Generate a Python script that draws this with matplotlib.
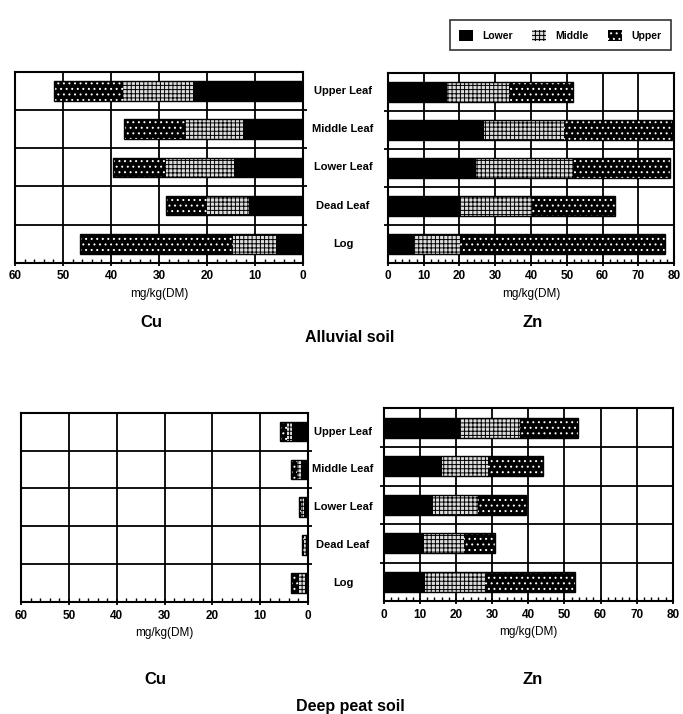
import numpy as np
import matplotlib
matplotlib.use('Agg')
import matplotlib.pyplot as plt
from matplotlib.patches import Patch

plt.rcParams['font.family'] = ['Liberation Sans', 'DejaVu Sans']
plt.rcParams['font.weight'] = 'bold'
plt.rcParams['hatch.linewidth'] = 0.7

categories = ['Upper Leaf', 'Middle Leaf', 'Lower Leaf', 'Dead Leaf', 'Log']
layers = ['Lower', 'Middle', 'Upper']

# segment values, mg/kg(DM), in category order
cu_alluvial = {'Lower': [22.9, 12.5, 14.4, 11.2, 5.6],
               'Middle': [14.6, 12.1, 14.1, 8.8, 9.0],
               'Upper': [14.3, 12.7, 11.2, 8.5, 31.9]}
zn_alluvial = {'Lower': [16.6, 26.8, 24.7, 20.2, 7.4],
               'Middle': [17.2, 22.5, 27.1, 20.0, 12.8],
               'Upper': [17.8, 30.2, 27.0, 23.3, 57.2]}
cu_peat = {'Lower': [3.3, 1.4, 0.9, 0.5, 0.7],
           'Middle': [1.2, 1.0, 0.5, 0.3, 1.2],
           'Upper': [1.3, 1.2, 0.5, 0.4, 1.6]}
zn_peat = {'Lower': [21.2, 16.2, 13.6, 11.1, 11.3],
           'Middle': [16.6, 12.6, 12.5, 11.0, 16.6],
           'Upper': [15.9, 15.2, 13.3, 8.6, 24.9]}

styles = {'Lower': dict(color='black', hatch=None, edgecolor='black'),
          'Middle': dict(color='#dcdcdc', hatch='++++', edgecolor='black'),
          'Upper': dict(color='black', hatch='...', edgecolor='white')}

fig = plt.figure(figsize=(6.83, 7.14), dpi=100)


def panel(rect, data, xmax, inverted):
    ax = fig.add_axes(rect)
    y = np.arange(len(categories))
    left = np.zeros(len(categories))
    for name in layers:
        vals = np.array(data[name])
        st = styles[name]
        ax.barh(y, vals, left=left, height=0.52, color=st['color'],
                hatch=st['hatch'], edgecolor=st['edgecolor'], linewidth=0, zorder=3)
        left = left + vals
    ax.barh(y, left, height=0.52, fill=False, edgecolor='black', linewidth=1.0, zorder=4)
    ax.set_ylim(len(categories) - 0.5, -0.5)
    ax.set_xlim(0, xmax)
    if inverted:
        ax.invert_xaxis()
    ax.set_xticks(np.arange(0, xmax + 1, 10))
    ax.set_xticks(np.arange(0, xmax + 1, 2), minor=True)
    ax.set_yticks(np.arange(len(categories) - 1) + 0.5, minor=True)
    ax.set_yticks([])
    ax.grid(True, which='major', axis='x', color='black', linewidth=1.3, zorder=1)
    ax.grid(True, which='minor', axis='y', color='black', linewidth=1.3, zorder=1)
    ax.tick_params(axis='x', which='major', direction='inout', length=5, width=1.3,
                   labelsize=8.5, pad=3)
    ax.tick_params(axis='x', which='minor', direction='in', length=3, width=1)
    ax.tick_params(axis='y', which='minor', length=3, width=1.3,
                   left=not inverted, right=inverted)
    for s in ax.spines.values():
        s.set_linewidth(1.5)
    ax.set_xlabel('mg/kg(DM)', fontsize=8.5, labelpad=4)
    return ax


ax1 = panel([0.022, 0.632, 0.422, 0.267], cu_alluvial, 60, True)
ax2 = panel([0.568, 0.632, 0.419, 0.266], zn_alluvial, 80, False)
ax3 = panel([0.031, 0.157, 0.420, 0.265], cu_peat, 60, True)
ax4 = panel([0.562, 0.158, 0.423, 0.270], zn_peat, 80, False)

for ax in [ax1, ax3]:
    trans = matplotlib.transforms.blended_transform_factory(fig.transFigure, ax.transData)
    for i, c in enumerate(categories):
        ax.text(343 / 683, i, c, transform=trans, ha='center', va='center', fontsize=8)

fig.text(151 / 683, 1 - 323 / 714, 'Cu', ha='center', va='center', fontsize=12)
fig.text(533 / 683, 1 - 323 / 714, 'Zn', ha='center', va='center', fontsize=12)
fig.text(350 / 683, 1 - 338 / 714, 'Alluvial soil', ha='center', va='center', fontsize=11.5)
fig.text(155 / 683, 1 - 680 / 714, 'Cu', ha='center', va='center', fontsize=12)
fig.text(533 / 683, 1 - 680 / 714, 'Zn', ha='center', va='center', fontsize=12)
fig.text(350 / 683, 1 - 707 / 714, 'Deep peat soil', ha='center', va='center', fontsize=11.5)

handles = [Patch(facecolor=styles[n]['color'], hatch=styles[n]['hatch'],
                 edgecolor=styles[n]['edgecolor'], linewidth=0) for n in layers]
leg = fig.legend(handles, layers, loc='upper right', bbox_to_anchor=(676 / 683, 1 - 15 / 714),
                 ncol=3, fontsize=7.5, frameon=True, fancybox=False, handlelength=1.3,
                 handleheight=1.3, columnspacing=1.9, handletextpad=0.9, borderpad=0.9)
leg.get_frame().set_edgecolor('black')
leg.get_frame().set_linewidth(1.2)

fig.savefig('out.png', dpi=100)
